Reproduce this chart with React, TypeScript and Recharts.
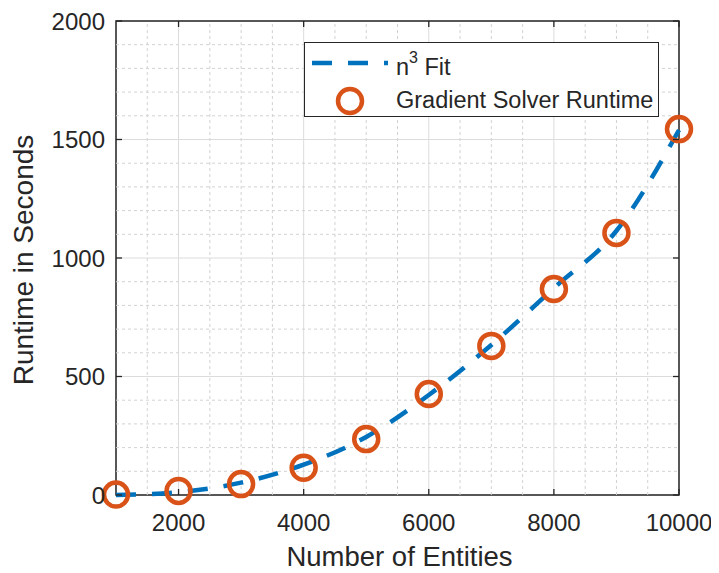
import React from "react";
import {
  ComposedChart,
  Line,
  Scatter,
  XAxis,
  YAxis,
  CartesianGrid,
  ReferenceLine,
  ReferenceArea,
  Legend,
} from "recharts";

// ---- data ----
const entities = [1000, 2000, 3000, 4000, 5000, 6000, 7000, 8000, 9000, 10000];
const runtimeSeconds = [2, 17, 46, 115, 236, 426, 629, 869, 1106, 1544];
const fitSeconds = [0, 12, 52, 128, 245, 422, 633, 873, 1115, 1540];
const xTicks = [2000, 4000, 6000, 8000, 10000];
const yTicks = [0, 500, 1000, 1500, 2000];
const xMinorTicks = [1500, 2500, 3000, 3500, 4500, 5000, 5500, 6500, 7000, 7500, 8500, 9000, 9500];
const yMinorTicks = [
  100, 200, 300, 400, 600, 700, 800, 900, 1100, 1200, 1300, 1400, 1600, 1700, 1800, 1900,
];
const xLabel = "Number of Entities";
const yLabel = "Runtime in Seconds";
const fitName = "Fit";
const runtimeName = "Gradient Solver Runtime";

const data = entities.map((n, i) => ({ n, fit: fitSeconds[i], runtime: runtimeSeconds[i] }));

// ---- layout / style ----
const W = 711;
const H = 565;
const M = { top: 13, right: 40, bottom: 0, left: 0 };
const Y_AXIS_W = 108;
const X_AXIS_H = 78;
const PLOT_W = W - M.left - M.right - Y_AXIS_W;
const PLOT_H = H - M.top - M.bottom - X_AXIS_H;
const FONT = "'Liberation Sans', Arial, Helvetica, sans-serif";
const TXT = "#262626";
const BLUE = "#0072BD";
const ORANGE = "#D95319";
const TICK_LEN = 6;

const XTick = (props: any) => {
  const { x, y, payload } = props;
  return (
    <g>
      <line x1={x} x2={x} y1={y} y2={y - TICK_LEN} stroke={TXT} strokeWidth={1.3} />
      <line x1={x} x2={x} y1={y - PLOT_H} y2={y - PLOT_H + TICK_LEN} stroke={TXT} strokeWidth={1.3} />
      <text x={x} y={y + 36} textAnchor="middle" fontFamily={FONT} fontSize={24} fill={TXT}>
        {payload.value}
      </text>
    </g>
  );
};

const YTick = (props: any) => {
  const { x, y, payload } = props;
  return (
    <g>
      <line x1={x} x2={x + TICK_LEN} y1={y} y2={y} stroke={TXT} strokeWidth={1.3} />
      <line x1={x + PLOT_W} x2={x + PLOT_W - TICK_LEN} y1={y} y2={y} stroke={TXT} strokeWidth={1.3} />
      <text x={x - 11} y={y + 8.5} textAnchor="end" fontFamily={FONT} fontSize={24} fill={TXT}>
        {payload.value}
      </text>
    </g>
  );
};

const XLabel = (props: any) => {
  const vb = props.viewBox || {};
  return (
    <text
      x={vb.x + vb.width / 2 + 2}
      y={vb.y + 71}
      textAnchor="middle"
      fontFamily={FONT}
      fontSize={27.5}
      fill={TXT}
    >
      {xLabel}
    </text>
  );
};

const YLabel = (props: any) => {
  const vb = props.viewBox || {};
  const cx = 24.5;
  const cy = vb.y + vb.height / 2 + 2;
  return (
    <text
      x={cx}
      y={cy}
      transform={`rotate(-90 ${cx} ${cy})`}
      textAnchor="middle"
      fontFamily={FONT}
      fontSize={28}
      fill={TXT}
    >
      {yLabel}
    </text>
  );
};

const Ring = (props: any) => {
  const { cx, cy } = props;
  if (cx == null || cy == null) return null;
  return <circle cx={cx} cy={cy} r={12} fill="none" stroke={ORANGE} strokeWidth={4.5} />;
};

const LegendBox = () => (
  <div
    style={{
      width: 355,
      height: 75,
      border: `1.5px solid ${TXT}`,
      background: "#fff",
      boxSizing: "border-box",
      position: "relative",
    }}
  >
    <svg width={352} height={72} style={{ position: "absolute", left: -1.5, top: -1.5, overflow: "visible" }}>
      <line x1={8} x2={84} y1={21} y2={21} stroke={BLUE} strokeWidth={4.5} strokeDasharray="20 16" />
      <text x={92} y={33} fontFamily={FONT} fontSize={23.5} fill={TXT}>
        n
        <tspan dy={-12} fontSize={16}>
          3
        </tspan>
        <tspan dy={12}> {fitName}</tspan>
      </text>
      <circle cx={46} cy={59} r={12} fill="none" stroke={ORANGE} strokeWidth={4.5} />
      <text x={92} y={66} fontFamily={FONT} fontSize={23.5} fill={TXT}>
        {runtimeName}
      </text>
    </svg>
  </div>
);

export default function App() {
  return (
    <div style={{ width: W, height: H, background: "#fff" }}>
      <ComposedChart width={W} height={H} data={data} margin={M}>
        {xMinorTicks.map((v) => (
          <ReferenceLine key={`xm${v}`} x={v} stroke="#d2d2d2" strokeWidth={1} strokeDasharray="3 3" />
        ))}
        {yMinorTicks.map((v) => (
          <ReferenceLine key={`ym${v}`} y={v} stroke="#d2d2d2" strokeWidth={1} strokeDasharray="3 3" />
        ))}
        <CartesianGrid stroke="#dcdcdc" strokeWidth={1} />
        <XAxis
          dataKey="n"
          type="number"
          domain={[1000, 10000]}
          ticks={xTicks}
          height={X_AXIS_H}
          tickSize={0}
          tickMargin={0}
          tickLine={false}
          axisLine={false}
          tick={<XTick />}
          interval={0}
          label={<XLabel />}
        />
        <YAxis
          type="number"
          domain={[0, 2000]}
          ticks={yTicks}
          width={Y_AXIS_W}
          tickSize={0}
          tickMargin={0}
          tickLine={false}
          axisLine={false}
          tick={<YTick />}
          interval={0}
          label={<YLabel />}
        />
        <ReferenceArea
          x1={1000}
          x2={10000}
          y1={0}
          y2={2000}
          fill="none"
          fillOpacity={0}
          stroke={TXT}
          strokeWidth={1.5}
        />
        <Line
          type="monotone"
          dataKey="fit"
          name={fitName}
          stroke={BLUE}
          strokeWidth={4.5}
          strokeDasharray="20 16"
          dot={false}
          activeDot={false}
          isAnimationActive={false}
        />
        <Scatter dataKey="runtime" name={runtimeName} shape={<Ring />} isAnimationActive={false} />
        <Legend
          layout="vertical"
          align="center"
          verticalAlign="middle"
          content={<LegendBox />}
          wrapperStyle={{ left: 296, top: 34, width: 355, height: 75 }}
        />
      </ComposedChart>
    </div>
  );
}
